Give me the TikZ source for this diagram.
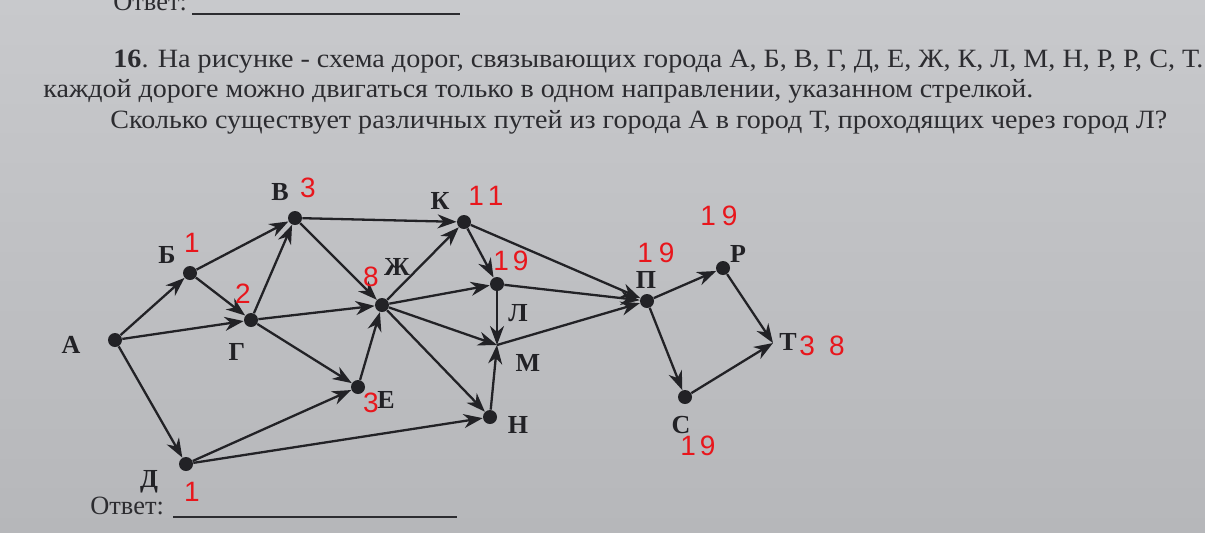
\documentclass[tikz,border=0pt]{standalone}
\usepackage{graphicx}
\usepackage{fontspec}
\setmainfont{Liberation Serif}
\newfontfamily\handfont{Liberation Sans}
\usetikzlibrary{arrows.meta}
\definecolor{paperA}{RGB}{200,201,204}
\definecolor{paperB}{RGB}{182,183,186}
\definecolor{ink}{RGB}{34,34,38}
\definecolor{textink}{RGB}{44,44,48}
\definecolor{pen}{RGB}{232,22,28}
\tikzset{
  dot/.style={circle, fill=ink, inner sep=0pt, minimum size=7pt},
  road/.style={draw=ink, line width=1.15pt, -{Stealth[length=9.5pt,width=7pt,inset=3pt]}},
  city/.style={font=\bfseries\fontsize{13}{15}\selectfont, text=ink, inner sep=0pt},
  note/.style={font=\handfont\fontsize{14}{16}\selectfont, text=pen, inner sep=0pt},
  body/.style={font=\fontsize{13.2}{15}\selectfont, text=textink, inner sep=0pt, anchor=base west},
  rule/.style={draw=textink, line width=0.9pt},
}
\begin{document}
\begin{tikzpicture}[x=0.5pt,y=-0.5pt]
\useasboundingbox (0,0) rectangle (1205,532);
\clip (0,0) rectangle (1205,532);
\shade[top color=paperA, bottom color=paperB] (0,0) rectangle (1205,532);

% header text
\node[body] (ans1) at (113,10) {Ответ:};
\coordinate (u1a) at (192,14);
\coordinate (u1b) at (460,14);
\draw[rule] (u1a) -- (u1b);
\node[body] (line1) at (113,67) {\resizebox{545pt}{\height}{\textbf{16}. На рисунке - схема дорог, связывающих города А, Б, В, Г, Д, Е, Ж, К, Л, М, Н, Р, Р, С, Т.}};
\node[body] (line2) at (43,97) {\resizebox{495pt}{\height}{каждой дороге можно двигаться только в одном направлении, указанном стрелкой.}};
\node[body] (line3) at (110,128) {\resizebox{528.5pt}{\height}{Сколько существует различных путей из города А в город Т, проходящих через город Л?}};

% cities
\node[dot] (A) at (115,340) {};
\node[dot] (B) at (190,273) {};
\node[dot] (V) at (295,218) {};
\node[dot] (G) at (251,320) {};
\node[dot] (Zh) at (382,305) {};
\node[dot] (K) at (464,222) {};
\node[dot] (L) at (497,284) {};
\coordinate (M) at (497,345);
\node[dot] (E) at (358,387) {};
\node[dot] (N) at (490,417) {};
\node[dot] (D) at (186,464) {};
\node[dot] (P) at (647,301) {};
\node[dot] (R) at (723,268) {};
\coordinate (T) at (773,343);
\node[dot] (S) at (685,397) {};

% labels
\node[city] (lA) at (71,345) {А};
\node[city] (lB) at (167,255) {Б};
\node[city] (lV) at (280,192) {В};
\node[city] (lG) at (237,352) {Г};
\node[city] (lZh) at (397,267) {Ж};
\node[city] (lK) at (440,201) {К};
\node[city] (lL) at (518,313) {Л};
\node[city] (lM) at (528,363) {М};
\node[city] (lE) at (386,400) {Е};
\node[city] (lN) at (518,425) {Н};
\node[city] (lD) at (149,482) {Д};
\node[city] (lP) at (646,280) {П};
\node[city] (lR) at (738,254) {Р};
\node[city] (lT) at (788,342) {Т};
\node[city] (lS) at (681,425) {С};

% roads
\draw[road] (A) -- (B);
\draw[road] (A) -- (G);
\draw[road] (A) -- (D);
\draw[road] (B) -- (V);
\draw[road] (B) -- (G);
\draw[road] (G) -- (V);
\draw[road] (G) -- (Zh);
\draw[road] (G) -- (E);
\draw[road] (V) -- (K);
\draw[road] (V) -- (Zh);
\draw[road] (E) -- (Zh);
\draw[road] (D) -- (E);
\draw[road] (D) -- (N);
\draw[road] (Zh) -- (K);
\draw[road] (Zh) -- (L);
\draw[road] (Zh) -- (M);
\draw[road] (Zh) -- (N);
\draw[road] (K) -- (L);
\draw[road] (K) -- (P);
\draw[road] (L) -- (M);
\draw[road] (N) -- (M);
\draw[road] (L) -- (P);
\draw[road] (M) -- (P);
\draw[road] (P) -- (R);
\draw[road] (P) -- (S);
\draw[road] (R) -- (T);
\draw[road] (S) -- (T);

% handwritten counts
\node[note] (nB) at (192,243) {1};
\node[note] (nV) at (308,188) {3};
\node[note] (nG) at (243,294) {2};
\node[note] (nZh) at (371,277) {8};
\node[note] (nK) at (486,196) {1\hspace{2pt}1};
\node[note] (nL) at (511,261) {1\hspace{2pt}9};
\node[note] (nE) at (371,403) {3};
\node[note] (nD) at (192,492) {1};
\node[note] (nP) at (656,253) {1\hspace{3pt}9};
\node[note] (nR) at (719,216) {1\hspace{3pt}9};
\node[note] (nT) at (822,346) {3\hspace{7pt}8};
\node[note] (nS) at (698,446) {1\hspace{2pt}9};

% answer line at bottom
\node[body] (ans2) at (90,514) {Ответ:};
\coordinate (u2a) at (173,517);
\coordinate (u2b) at (457,517);
\draw[rule] (u2a) -- (u2b);
\end{tikzpicture}
\end{document}
